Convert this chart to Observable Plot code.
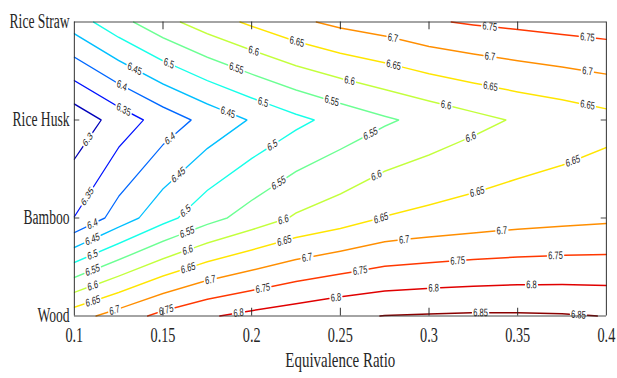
<!DOCTYPE html>
<html>
<head>
<meta charset="utf-8">
<script src="https://cdn.jsdelivr.net/npm/d3@7"></script>
<script src="https://cdn.jsdelivr.net/npm/@observablehq/plot@0.6"></script>
<style>
  html, body { margin: 0; padding: 0; background: #fff; }
  #wrap { width: 617px; height: 378px; overflow: hidden; position: relative; background: #fff; }
  #chart { transform-origin: 0 0; transform: scale(0.68, 1); width: 907px; }
</style>
</head>
<body>
<div id="wrap"><div id="chart"></div></div>
<script>
// ---------------- data ----------------
const feedstocks = ["Wood", "Bamboo", "Rice Husk", "Rice Straw"]; // bottom -> top
const equivalenceRatio = [0.1, 0.125, 0.15, 0.175, 0.2, 0.225, 0.25, 0.275, 0.3, 0.325, 0.35, 0.375, 0.4];
const wood      = [6.679, 6.722, 6.765, 6.795, 6.813, 6.828, 6.842, 6.851, 6.854, 6.856, 6.856, 6.854, 6.849];
const bamboo    = [6.351, 6.422, 6.483, 6.533, 6.571, 6.606, 6.627, 6.652, 6.663, 6.672, 6.680, 6.686, 6.691];
const riceHusk  = [6.266, 6.322, 6.372, 6.416, 6.454, 6.488, 6.517, 6.543, 6.565, 6.586, 6.605, 6.619, 6.634];
const riceStraw = [6.475, 6.533, 6.584, 6.625, 6.659, 6.690, 6.712, 6.726, 6.745, 6.755, 6.762, 6.769, 6.775];
const levels = [6.3, 6.35, 6.4, 6.45, 6.5, 6.55, 6.6, 6.65, 6.7, 6.75, 6.8, 6.85];
const xTicks = [0.1, 0.15, 0.2, 0.25, 0.3, 0.35, 0.4];
const xLabel = "Equivalence Ratio";

// ---------------- layout (drawn wide, then squeezed horizontally) ----------------
const W = 907, H = 378;
const ml = 108.8, mr = 15.8, mt = 21.5, mb = 62.5;
const frameW = W - ml - mr, frameH = H - mt - mb;
const tickLen = 7.8;
const ink = "#262626";
const labelFont = 11, labelSpacing = 144, firstOffset = 28, endRoom = 20, gapPad = 2.5;

const xs = equivalenceRatio;
const grid = [wood, bamboo, riceHusk, riceStraw];
const nx = xs.length, ny = grid.length;

const sx = Plot.scale({x: {domain: [xs[0], xs[nx - 1]], range: [ml, W - mr]}});
const sy = Plot.scale({y: {domain: [0, ny - 1], range: [H - mb, mt]}});

// jet colormap
const jet = t => {
  const c = v => Math.round(255 * Math.max(0, Math.min(1, v)));
  return `rgb(${c(1.5 - Math.abs(4 * t - 3))},${c(1.5 - Math.abs(4 * t - 2))},${c(1.5 - Math.abs(4 * t - 1))})`;
};

// ---------------- marching squares isolines ----------------
function isolines(level) {
  const pts = new Map(), adj = new Map();
  const ep = (key, xa, ya, va, xb, yb, vb) => {
    if (!pts.has(key)) {
      const t = (level - va) / (vb - va);
      pts.set(key, [xa + t * (xb - xa), ya + t * (yb - ya)]);
    }
    return key;
  };
  const link = (a, b) => {
    if (!adj.has(a)) adj.set(a, []);
    if (!adj.has(b)) adj.set(b, []);
    adj.get(a).push(b); adj.get(b).push(a);
  };
  const cross = (a, b) => (a >= level) !== (b >= level);
  for (let j = 0; j < ny - 1; j++) {
    for (let i = 0; i < nx - 1; i++) {
      const v00 = grid[j][i], v10 = grid[j][i + 1], v01 = grid[j + 1][i], v11 = grid[j + 1][i + 1];
      const x0 = xs[i], x1 = xs[i + 1];
      const e = [];
      if (cross(v00, v10)) e[0] = ep(`h${i},${j}`, x0, j, v00, x1, j, v10);
      if (cross(v10, v11)) e[1] = ep(`v${i + 1},${j}`, x1, j, v10, x1, j + 1, v11);
      if (cross(v01, v11)) e[2] = ep(`h${i},${j + 1}`, x0, j + 1, v01, x1, j + 1, v11);
      if (cross(v00, v01)) e[3] = ep(`v${i},${j}`, x0, j, v00, x0, j + 1, v01);
      const present = [0, 1, 2, 3].filter(k => e[k] !== undefined);
      if (present.length === 2) link(e[present[0]], e[present[1]]);
      else if (present.length === 4) {
        const center = (v00 + v10 + v01 + v11) / 4 >= level;
        if ((v00 >= level) === center) { link(e[0], e[1]); link(e[2], e[3]); }
        else { link(e[3], e[0]); link(e[1], e[2]); }
      }
    }
  }
  const visited = new Set();
  const walk = start => {
    const line = [start]; visited.add(start);
    let cur = start;
    while (true) {
      const nb = (adj.get(cur) || []).filter(k => !visited.has(k));
      if (!nb.length) break;
      cur = nb[0]; visited.add(cur); line.push(cur);
    }
    return line;
  };
  const endInfo = key => {
    const type = key[0];
    const [i, j] = key.slice(1).split(",").map(Number);
    const [x, y] = pts.get(key);
    if (type === "v" && i === 0) return [0, y];
    if (type === "h" && j === 0) return [1, -x];
    if (type === "v" && i === nx - 1) return [2, -y];
    return [3, x];
  };
  const lines = [];
  for (const [k, a] of adj) {
    if (a.length === 1 && !visited.has(k)) {
      const keys = walk(k);
      const A = endInfo(keys[0]), B = endInfo(keys[keys.length - 1]);
      if (B[0] < A[0] || (B[0] === A[0] && B[1] < A[1])) keys.reverse();
      lines.push(keys.map(q => pts.get(q)));
    }
  }
  for (const [k] of adj) {
    if (!visited.has(k)) {
      const keys = walk(k); keys.push(keys[0]);
      lines.push(keys.map(q => pts.get(q)));
    }
  }
  return lines;
}

// ---------------- build line pieces and inline labels ----------------
const pieces = [], labels = [];
let pid = 0;
for (const level of levels) {
  for (const line of isolines(level)) {
    const P = line.map(([x, y]) => [sx.apply(x), sy.apply(y)]);
    const cum = [0];
    for (let k = 1; k < P.length; k++) cum.push(cum[k - 1] + Math.hypot(P[k][0] - P[k - 1][0], P[k][1] - P[k - 1][1]));
    const L = cum[cum.length - 1];
    const at = s => {
      s = Math.max(0, Math.min(L, s));
      let k = 1;
      while (k < P.length - 1 && cum[k] < s) k++;
      const seg = cum[k] - cum[k - 1];
      const t = seg ? (s - cum[k - 1]) / seg : 0;
      return [P[k - 1][0] + t * (P[k][0] - P[k - 1][0]), P[k - 1][1] + t * (P[k][1] - P[k - 1][1])];
    };
    const text = String(+level.toFixed(2));
    const tw = labelFont * (0.556 * text.replace(".", "").length + 0.278);
    const half = tw / 2 + gapPad;
    const gaps = [];
    if (L > tw) {
      for (let s = firstOffset; s + tw / 2 + endRoom <= L; s += labelSpacing) {
        const c = at(s), a = at(s - tw / 2), b = at(s + tw / 2);
        const hx = Math.abs(b[0] - a[0]) / 2;
        if (c[0] - hx < ml || c[0] + hx > W - mr) continue; // label would cross a side of the frame
        let ang = Math.atan2(b[1] - a[1], b[0] - a[0]) * 180 / Math.PI;
        if (ang > 90) ang -= 180;
        if (ang <= -90) ang += 180;
        labels.push({x: sx.invert(c[0]), y: sy.invert(c[1]), text, angle: ang});
        gaps.push([s - half, s + half]);
      }
    }
    let a0 = 0;
    const keep = [];
    for (const [g0, g1] of gaps) { if (g0 > a0) keep.push([a0, g0]); a0 = Math.max(a0, g1); }
    if (a0 < L) keep.push([a0, L]);
    for (const [k0, k1] of keep) {
      if (k1 - k0 < 0.5) continue;
      const seg = [at(k0)];
      for (let k = 0; k < P.length; k++) if (cum[k] > k0 && cum[k] < k1) seg.push(P[k]);
      seg.push(at(k1));
      pid++;
      for (const [px, py] of seg) pieces.push({id: pid, level, x: sx.invert(px), y: sy.invert(py)});
    }
  }
}

const allValues = grid.flat();
const innerX = xTicks.slice(1, -1);
const innerY = d3.range(1, ny - 1);

const plot = Plot.plot({
  width: W, height: H,
  marginLeft: ml, marginRight: mr, marginTop: mt, marginBottom: mb,
  x: {domain: [xs[0], xs[nx - 1]]},
  y: {domain: [0, ny - 1]},
  color: {type: "linear", domain: d3.extent(allValues), interpolate: jet},
  style: {fontFamily: "'Liberation Serif', 'Times New Roman', serif", fontSize: "20px", color: ink, background: "#fff", overflow: "visible"},
  marks: [
    Plot.line(pieces, {x: "x", y: "y", z: "id", stroke: "level", strokeWidth: 1.5}),
    Plot.text(labels, {x: "x", y: "y", text: "text", rotate: "angle", fontSize: labelFont,
      fontFamily: "'Liberation Sans', Arial, Helvetica, sans-serif", fill: "#222", textAnchor: "middle", lineAnchor: "middle"}),
    // frame
    Plot.ruleX([xs[0], xs[nx - 1]], {x: d => d, stroke: ink, strokeWidth: 1.4}),
    Plot.ruleY([0, ny - 1], {y: d => d, stroke: ink, strokeWidth: 1}),
    // inward ticks
    Plot.ruleX(innerX, {x: d => d, insetTop: frameH - tickLen, stroke: ink, strokeWidth: 1.4}),
    Plot.ruleX(innerX, {x: d => d, insetBottom: frameH - tickLen, stroke: ink, strokeWidth: 1.4}),
    Plot.ruleY(innerY, {y: d => d, insetRight: frameW - tickLen, stroke: ink, strokeWidth: 1}),
    Plot.ruleY(innerY, {y: d => d, insetLeft: frameW - tickLen, stroke: ink, strokeWidth: 1}),
    // axes
    Plot.axisX(xTicks, {anchor: "bottom", tickSize: 0, tickPadding: 11, fontSize: 21, label: null, tickFormat: d => String(d)}),
    Plot.axisY(d3.range(ny), {anchor: "left", tickSize: 0, tickPadding: 7, fontSize: 20, label: null, tickFormat: i => feedstocks[i]}),
    Plot.text([xLabel], {text: d => d, frameAnchor: "bottom", dy: 43.6, fontSize: 22, lineAnchor: "middle", fill: ink})
  ]
});
document.getElementById("chart").appendChild(plot);
</script>
</body>
</html>
